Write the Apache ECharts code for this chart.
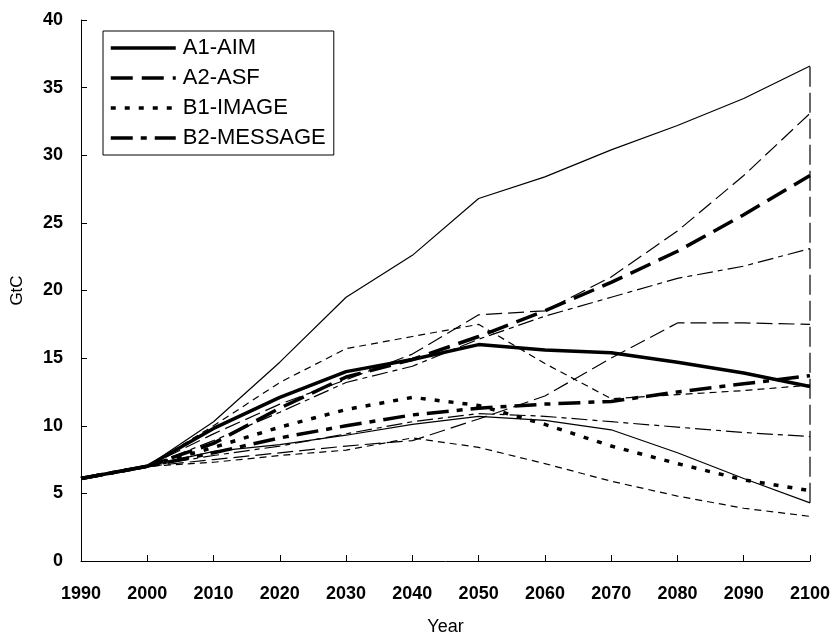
<!DOCTYPE html>
<html>
<head>
<meta charset="utf-8">
<script src="https://cdn.jsdelivr.net/npm/echarts@6/dist/echarts.min.js"></script>
<style>
html,body{margin:0;padding:0;background:#fff;}
#chart{width:834px;height:635px;}
</style>
</head>
<body>
<div id="chart"></div>
<script>
// ---- data ----
var years = [1990, 2000, 2010, 2020, 2030, 2040, 2050, 2060, 2070, 2080, 2090, 2100];

// marker scenarios (thick lines)
var A1_AIM     = [6.1, 7.0, 9.8, 12.1, 14.0, 14.9, 16.0, 15.6, 15.4, 14.7, 13.9, 12.9];
var A2_ASF     = [6.1, 7.0, 8.7, 11.3, 13.6, 14.9, 16.6, 18.5, 20.6, 22.9, 25.6, 28.5];
var B1_IMAGE   = [6.1, 7.0, 8.4, 9.9, 11.2, 12.1, 11.5, 10.1, 8.5, 7.2, 6.0, 5.2];
var B2_MESSAGE = [6.1, 7.0, 8.0, 9.1, 10.0, 10.8, 11.3, 11.6, 11.8, 12.5, 13.1, 13.7];

// family ranges (thin lines)
var A1_high = [6.1, 7.0, 10.3, 14.7, 19.5, 22.6, 26.8, 28.4, 30.4, 32.2, 34.2, 36.6];
var A1_low  = [6.1, 7.0, 8.1, 8.6, 9.3, 10.1, 10.7, 10.4, 9.7, 8.0, 6.1, 4.3];
var A2_high = [6.1, 7.0, 9.4, 11.6, 13.4, 15.3, 18.2, 18.5, 21.0, 24.4, 28.5, 33.1];
var A2_low  = [6.1, 7.0, 7.5, 8.0, 8.5, 8.9, 10.5, 12.2, 15.0, 17.6, 17.6, 17.5];
var B1_high = [6.1, 7.0, 10.0, 13.2, 15.7, 16.6, 17.5, 14.6, 12.0, 12.3, 12.6, 13.0];
var B1_low  = [6.1, 7.0, 7.3, 7.8, 8.2, 9.1, 8.4, 7.2, 5.9, 4.8, 3.9, 3.3];
var B2_high = [6.1, 7.0, 8.9, 11.0, 13.2, 14.4, 16.4, 18.1, 19.5, 20.9, 21.8, 23.1];
var B2_low  = [6.1, 7.0, 7.8, 8.5, 9.4, 10.3, 10.9, 10.7, 10.3, 9.9, 9.5, 9.2];

// A1 range bar at 2100
var rangeYear = 2100;
var rangeA1_2100 = [4.3, 36.6];

var legendNames = ['A1-AIM', 'A2-ASF', 'B1-IMAGE', 'B2-MESSAGE'];
var yTicks = [0, 5, 10, 15, 20, 25, 30, 35, 40];

// ---- styles ----
var FONT = '"Liberation Sans", Arial, sans-serif';
var dashStyles = {
  solid: 'solid',
  longThick: [22, 9],
  dotThick: [5, 9],
  dashDotThick: [22, 8, 6, 8],
  longThin: [16, 6],
  shortThin: [7, 5],
  dashDotThin: [16, 5, 5, 5]
};

function pairs(vals) {
  return years.map(function (y, i) { return [y, vals[i]]; });
}
function lineSeries(name, vals, dash, width) {
  return {
    name: name,
    type: 'line',
    data: pairs(vals),
    symbol: 'none',
    smooth: false,
    silent: true,
    color: '#000',
    itemStyle: { color: '#000' },
    lineStyle: { color: '#000', width: width, type: dash, cap: 'butt' },
    z: width > 2 ? 3 : 2
  };
}

var series = [
  lineSeries('A1-high', A1_high, dashStyles.solid, 1.2),
  lineSeries('A1-low', A1_low, dashStyles.solid, 1.2),
  lineSeries('A2-high', A2_high, dashStyles.longThin, 1.2),
  lineSeries('A2-low', A2_low, dashStyles.longThin, 1.2),
  lineSeries('B1-high', B1_high, dashStyles.shortThin, 1.2),
  lineSeries('B1-low', B1_low, dashStyles.shortThin, 1.2),
  lineSeries('B2-high', B2_high, dashStyles.dashDotThin, 1.2),
  lineSeries('B2-low', B2_low, dashStyles.dashDotThin, 1.2),
  {
    name: 'A1-range', type: 'line', symbol: 'none', silent: true, color: '#000',
    data: rangeA1_2100.map(function (v) { return [rangeYear, v]; }),
    lineStyle: { color: '#000', width: 1.2, type: [20, 6] }, z: 2
  },
  lineSeries('A1-AIM', A1_AIM, dashStyles.solid, 3.5),
  lineSeries('A2-ASF', A2_ASF, dashStyles.longThick, 3.5),
  lineSeries('B1-IMAGE', B1_IMAGE, dashStyles.dotThick, 3.5),
  lineSeries('B2-MESSAGE', B2_MESSAGE, dashStyles.dashDotThick, 3.5)
];

var chart = echarts.init(document.getElementById('chart'), null, { renderer: 'canvas' });
chart.setOption({
  animation: false,
  backgroundColor: '#fff',
  color: ['#000'],
  textStyle: { fontFamily: FONT, color: '#000' },
  grid: { left: 81, right: 24, top: 20, bottom: 74, containLabel: false, outerBoundsMode: 'none' },
  legend: {
    data: legendNames,
    orient: 'vertical',
    left: 103,
    top: 31,
    itemWidth: 65,
    itemHeight: 14,
    itemGap: 8,
    padding: [6, 8, 6, 6],
    borderColor: '#000',
    borderWidth: 1,
    backgroundColor: '#fff',
    selectedMode: false,
    itemStyle: { opacity: 0 },
    textStyle: { fontFamily: FONT, fontSize: 22, color: '#000', padding: [0, 0, 0, 2] },
    lineStyle: { width: 3.5 }
  },
  xAxis: {
    type: 'value',
    min: 1990, max: 2100, interval: 10,
    name: 'Year', nameLocation: 'middle', nameGap: 57,
    nameTextStyle: { fontSize: 18, color: '#000', fontFamily: FONT },
    axisLine: { lineStyle: { color: '#000', width: 1 } },
    axisTick: { inside: true, length: 6, lineStyle: { color: '#000' } },
    axisLabel: { fontSize: 18, fontWeight: 'bold', color: '#000', margin: 24, fontFamily: FONT,
      formatter: function (v) { return String(v); } },
    splitLine: { show: false }
  },
  yAxis: {
    type: 'value',
    min: yTicks[0], max: yTicks[yTicks.length - 1], interval: 5,
    name: 'GtC', nameLocation: 'middle', nameGap: 55, nameRotate: 90,
    nameTextStyle: { fontSize: 17, color: '#000', fontFamily: FONT },
    axisLine: { show: true, lineStyle: { color: '#000', width: 1 } },
    axisTick: { show: true, inside: true, length: 6, lineStyle: { color: '#000' } },
    axisLabel: { fontSize: 18, fontWeight: 'bold', color: '#000', margin: 18, fontFamily: FONT },
    splitLine: { show: false }
  },
  series: series
});
</script>
</body>
</html>
